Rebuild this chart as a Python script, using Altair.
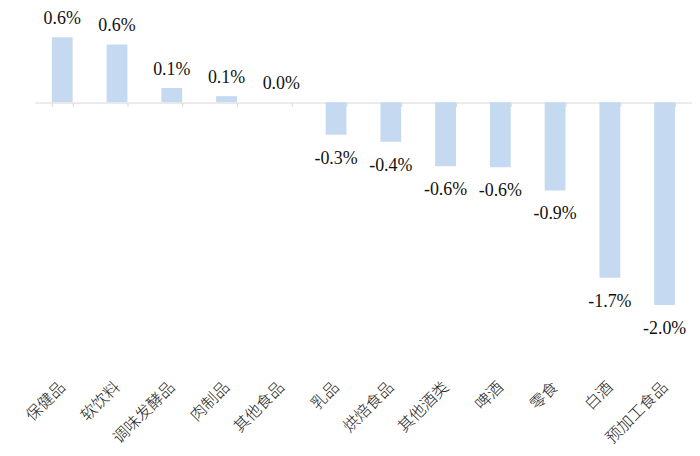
import altair as alt
import pandas as pd

categories = ["保健品", "软饮料", "调味发酵品", "肉制品", "其他食品", "乳品",
              "烘焙食品", "其他酒类", "啤酒", "零食", "白酒", "预加工食品"]
values = [0.64, 0.57, 0.14, 0.06, 0.0, -0.32, -0.39, -0.63, -0.64, -0.87, -1.73, -2.0]

df = pd.DataFrame({"cat": categories, "v": values})

x_enc = alt.X(
    "cat:N", sort=categories, title=None,
    scale=alt.Scale(paddingInner=0.62, paddingOuter=0.31),
    axis=alt.Axis(
        orient="bottom", offset=-234, domainColor="#d9d9d9", domainWidth=1,
        tickColor="#d9d9d9", tickSize=4, tickBand="extent",
        labelAngle=-45, labelAlign="right", labelBaseline="middle",
        labelPadding=279, labelFont="Noto Sans CJK SC", labelFontSize=16,
        labelFontWeight=300,
        labelColor="#222222", labelOverlap=False, grid=False,
    ),
)
y_enc = alt.Y("v:Q", scale=alt.Scale(domain=[-2.3, 0.9], nice=False), axis=None)

base = alt.Chart(df).encode(x=x_enc, y=y_enc)

bars = base.mark_bar(color="#c5d9f1")

lab = base.transform_calculate(
    label="replace(format(datum.v, '.1f'), '\u2212', '-') + '%'"
)
pos = lab.transform_filter("datum.v >= 0").mark_text(
    font="Liberation Serif", fontSize=18, color="#111111",
    baseline="alphabetic", dy=-13
).encode(text="label:N")
neg = lab.transform_filter("datum.v < 0").mark_text(
    font="Liberation Serif", fontSize=18, color="#111111",
    baseline="alphabetic", dy=29
).encode(text="label:N")

chart = alt.layer(bars, pos, neg).properties(
    width=660, height=326,
    autosize=alt.AutoSizeParams(type="none"),
    padding={"left": 27, "top": 2, "right": 0, "bottom": 112},
).configure_view(stroke=None)

chart.save("out.html", embed_options={"renderer": "svg", "actions": False})
